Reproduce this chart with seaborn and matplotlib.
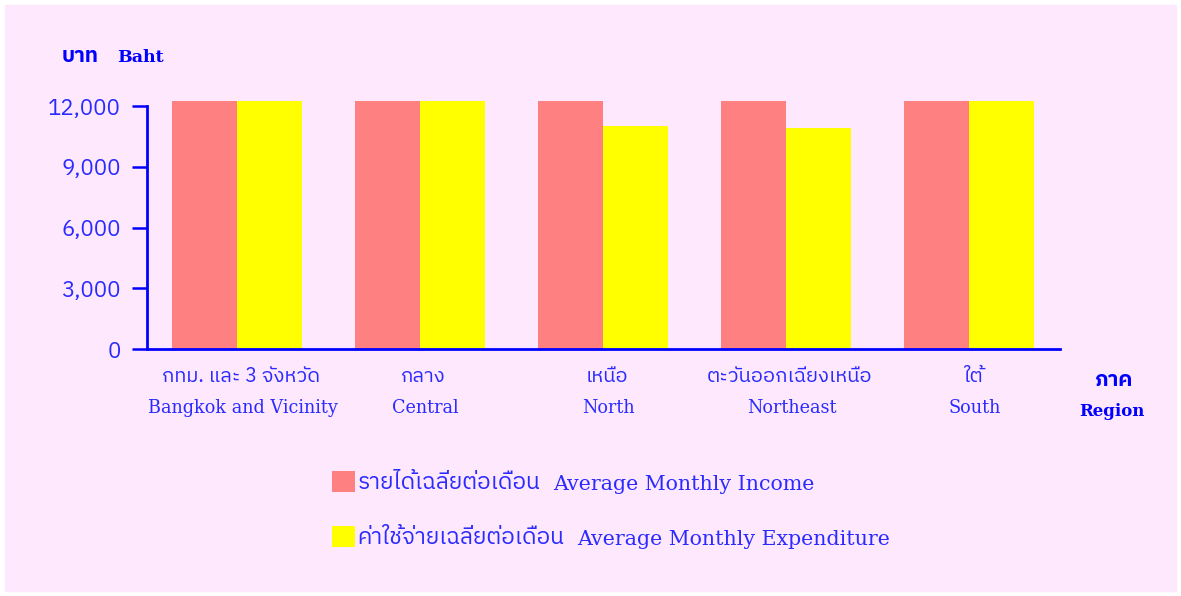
import numpy as np
import pandas as pd
import matplotlib
matplotlib.use('Agg')
import matplotlib.pyplot as plt
import seaborn as sns
from matplotlib.patches import Patch, Rectangle

regions_th = ['กทม. และ 3 จังหวัด', 'กลาง', 'เหนือ', 'ตะวันออกเฉียงเหนือ', 'ใต้']
regions_en = ['Bangkok and Vicinity', 'Central', 'North', 'Northeast', 'South']
income = [12250, 12250, 12250, 12250, 12250]
expenditure = [12250, 12250, 11020, 10910, 12250]
series_th = ['รายได้เฉลี่ยต่อเดือน', 'ค่าใช้จ่ายเฉลี่ยต่อเดือน']
series_en = ['Average Monthly Income', 'Average Monthly Expenditure']
yticks = [0, 3000, 6000, 9000, 12000]

df = pd.DataFrame({
    'region': regions_en * 2,
    'baht': income + expenditure,
    'series': [series_en[0]] * 5 + [series_en[1]] * 5,
})

bg = '#fde8fd'
blue = '#0000ff'
txt = '#2b2bff'
colors = ['#ff8080', '#ffff00']
thai = 'IBM Plex Sans Thai'
serif = 'DejaVu Serif'

sns.set_style('white')
fig = plt.figure(figsize=(11.81, 5.96), dpi=100, facecolor='white')
fig.patches.append(Rectangle((5 / 1181, 5 / 596), 1 - 10 / 1181, 1 - 10 / 596,
                             transform=fig.transFigure, color=bg, zorder=-10))
ax = fig.add_axes([147 / 1181, 1 - 349 / 596, 913 / 1181, 248 / 596])
ax.patch.set_alpha(0)

sns.barplot(data=df, x='region', y='baht', hue='series', palette=colors,
            width=0.71, gap=0, saturation=1, linewidth=0, ax=ax, legend=False)

ax.set_xlim(-0.492, 4.497)
ax.set_ylim(0, 12250)
ax.set_yticks(yticks)
ax.set_yticklabels([f'{v:,}' for v in yticks], color=txt, fontsize=16,
                   family=thai)
ax.set_xticks(range(5))
ax.set_xticklabels([''] * 5)
ax.tick_params(axis='y', length=11, width=1.8, color=blue, pad=8, left=True)
ax.tick_params(axis='x', length=0)
ax.set_xlabel('')
ax.set_ylabel('')
for s in ['top', 'right']:
    ax.spines[s].set_visible(False)
for s in ['left', 'bottom']:
    ax.spines[s].set_color(blue)
    ax.spines[s].set_linewidth(2)
ax.spines['left'].set_bounds(0, 12000)

tr = ax.get_xaxis_transform()
for i in range(5):
    ax.text(i + 0.02, -0.11, regions_th[i], transform=tr, ha='center', va='center',
            color=txt, fontsize=14.5, family=thai)
    ax.text(i + 0.03, -0.238, regions_en[i], transform=tr, ha='center', va='center',
            color=txt, fontsize=12.7, family=serif)

fig.text(62 / 1181, 1 - 57 / 596, 'บาท', ha='left', va='center',
         color=blue, fontsize=15, fontweight='bold', family=thai)
fig.text(117 / 1181, 1 - 57 / 596, 'Baht', ha='left', va='center',
         color=blue, fontsize=12.5, fontweight='bold', family=serif)
fig.text(1113 / 1181, 1 - 380 / 596, 'ภาค', ha='center', va='center',
         color=blue, fontsize=15, fontweight='bold', family=thai)
fig.text(1112 / 1181, 1 - 412 / 596, 'Region', ha='center', va='center',
         color=blue, fontsize=12, fontweight='bold', family=serif)

handles = [Patch(facecolor=c, edgecolor='none') for c in colors]
leg = fig.legend(handles, series_th, loc='upper left',
                 bbox_to_anchor=(323 / 1181, 1 - 462 / 596), frameon=False,
                 prop={'family': thai, 'size': 16.3}, labelcolor=txt,
                 handlelength=1.0, handleheight=1.05, handletextpad=0.12,
                 labelspacing=1.4, borderaxespad=0)

# english part of each legend entry sits right after the thai text
fig.canvas.draw()
for t, en in zip(leg.get_texts(), series_en):
    bb = t.get_window_extent()
    fig.text((bb.x1 + 13) / 1181, (bb.y0 + bb.y1) / 2 / 596 - 1 / 596, en,
             color=txt, fontsize=14.8, family=serif, va='center', ha='left')

fig.savefig('out.png', dpi=100, facecolor=fig.get_facecolor())
